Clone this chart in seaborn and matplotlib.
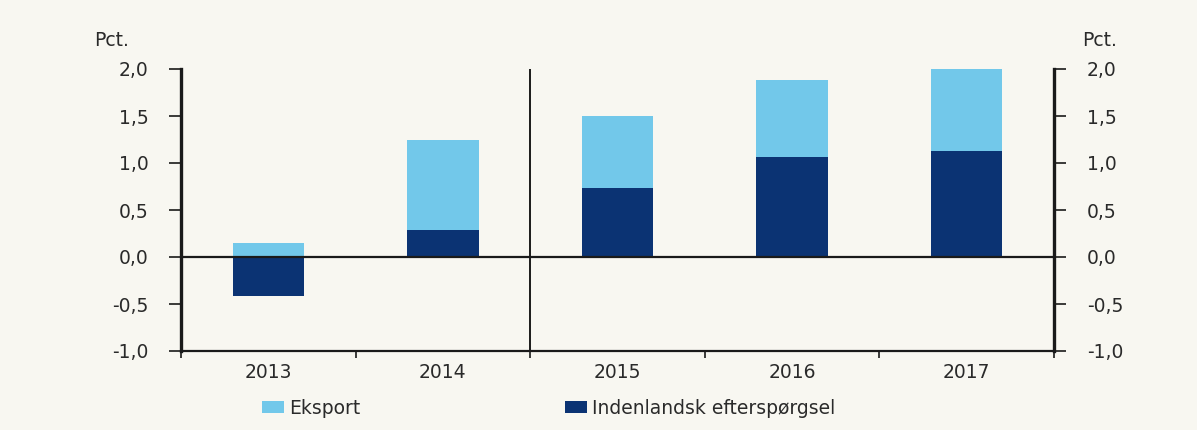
import numpy as np
import pandas as pd
import matplotlib
matplotlib.use("Agg")
import matplotlib.pyplot as plt
import seaborn as sns
from matplotlib.patches import Patch

years = ["2013", "2014", "2015", "2016", "2017"]
eksport = [0.15, 0.96, 0.77, 0.82, 0.87]
indenlandsk = [-0.42, 0.29, 0.73, 1.06, 1.13]
yticks = [-1.0, -0.5, 0.0, 0.5, 1.0, 1.5, 2.0]
ytick_labels = ["-1,0", "-0,5", "0,0", "0,5", "1,0", "1,5", "2,0"]

sns.set_theme(style="white")
plt.rcParams['font.family'] = ['DejaVu Sans']

BG = "#F8F7F1"
LIGHT = "#72C8EA"
DARK = "#0B3373"
TXT = "#2a2a2a"
FS = 13.5

df = pd.DataFrame({"year": years, "eksport": eksport, "ind": indenlandsk})
df["top"] = df["ind"].clip(lower=0) + df["eksport"]

W, H = 1197, 430
fig = plt.figure(figsize=(W / 100, H / 100), dpi=100, facecolor=BG)
ax = fig.add_axes([181 / W, 1 - 351 / H, (1054 - 181) / W, (351 - 69) / H])
ax.set_facecolor(BG)

sns.barplot(data=df, x="year", y="top", color=LIGHT, saturation=1, width=0.41,
            linewidth=0, ax=ax, zorder=2)
sns.barplot(data=df, x="year", y="ind", color=DARK, saturation=1, width=0.41,
            linewidth=0, ax=ax, zorder=3)

ax.set_xlim(-0.5, 4.5)
ax.set_ylim(-1.0, 2.0)
ax.set_xlabel("")
ax.set_ylabel("")

ax.axhline(0, color="#1a1a1a", lw=1.6, zorder=4)
ax.axvline(1.5, color="#1a1a1a", lw=1.4, zorder=4)

# x ticks: marks at category boundaries, labels at centres
ax.set_xticks(np.arange(-0.5, 5.0, 1.0))
ax.set_xticklabels([""] * 6)
ax.set_xticks(range(len(years)), minor=True)
ax.set_xticklabels(years, minor=True)
ax.tick_params(axis="x", which="major", direction="out", length=5, width=1.2,
               color="#1a1a1a", bottom=True)
ax.tick_params(axis="x", which="minor", length=0, pad=9, labelsize=FS,
               labelcolor=TXT)

ax.set_yticks(yticks)
ax.set_yticklabels(ytick_labels)
ax.tick_params(axis="y", direction="out", length=8.5, width=1.2, color="#1a1a1a",
               pad=15, labelsize=FS, labelcolor=TXT, left=True)

ax.spines["top"].set_visible(False)
ax.spines["left"].set_linewidth(2.4)
ax.spines["left"].set_color("#1a1a1a")
ax.spines["right"].set_visible(False)
ax.spines["bottom"].set_linewidth(1.6)
ax.spines["bottom"].set_color("#1a1a1a")

ax2 = ax.twinx()
ax2.set_ylim(-1.0, 2.0)
ax2.set_yticks(yticks)
ax2.set_yticklabels(ytick_labels)
ax2.tick_params(axis="y", direction="out", length=8.5, width=1.2, color="#1a1a1a",
                pad=15, labelsize=FS, labelcolor=TXT, right=True)
for s in ["top", "left", "bottom"]:
    ax2.spines[s].set_visible(False)
ax2.spines["right"].set_linewidth(2.4)
ax2.spines["right"].set_color("#1a1a1a")
ax2.grid(False)
ax.grid(False)

fig.text(112 / W, 1 - 41 / H, "Pct.", ha="center", va="center",
         fontsize=FS, color=TXT)
fig.text(1100 / W, 1 - 41 / H, "Pct.", ha="center", va="center",
         fontsize=FS, color=TXT)

leg_kw = dict(loc="center left", frameon=False, fontsize=FS, handlelength=1.15,
              handleheight=0.55, handletextpad=0.3, borderpad=0, borderaxespad=0,
              labelcolor=TXT)
fig.legend(handles=[Patch(facecolor=LIGHT, edgecolor="none", label="Eksport")],
           bbox_to_anchor=(262 / W, 1 - 408 / H), **leg_kw)
fig.legend(handles=[Patch(facecolor=DARK, edgecolor="none",
                          label="Indenlandsk efterspørgsel")],
           bbox_to_anchor=(565 / W, 1 - 408 / H), **leg_kw)

fig.savefig("out.png", dpi=100, facecolor=BG)
